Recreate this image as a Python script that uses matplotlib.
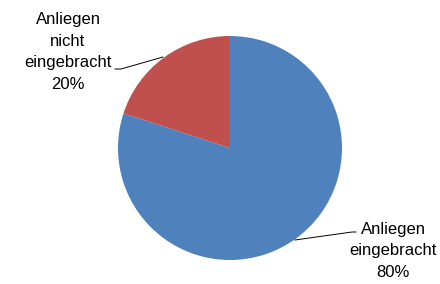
import matplotlib.pyplot as plt

categories = ["Anliegen\neingebracht", "Anliegen\nnicht\neingebracht"]
values = [80, 20]
colors = ["#4F81BD", "#C0504D"]

W, H = 440, 284
fig = plt.figure(figsize=(4.4, 2.84), dpi=100)
ax = fig.add_axes([0, 0, 1, 1])

cx, cy, r = 230, H - 148, 112
ax.pie(values, colors=colors, startangle=90, counterclock=False,
       center=(cx, cy), radius=r, frame=True,
       wedgeprops=dict(linewidth=0))
ax.set_xlim(0, W)
ax.set_ylim(0, H)
ax.set_aspect("equal")
ax.axis("off")

total = sum(values)
lbl = [f"{c}\n{round(v * 100 / total)}%" for c, v in zip(categories, values)]

# label positions (pixel coords, y from top) and leader lines
ax.text(393, H - 251, lbl[0], ha="center", va="center", fontsize=12,
        family="Liberation Sans", linespacing=1.58, color="#000000")
ax.plot([295, 352, 356], [H - 240, H - 232, H - 232], color="black", lw=0.7)

ax.text(68, H - 52, lbl[1], ha="center", va="center", fontsize=12,
        family="Liberation Sans", linespacing=1.58, color="#000000")
ax.plot([115, 121, 163], [H - 69, H - 69, H - 57], color="black", lw=0.7)

fig.savefig("out.png", dpi=100)
